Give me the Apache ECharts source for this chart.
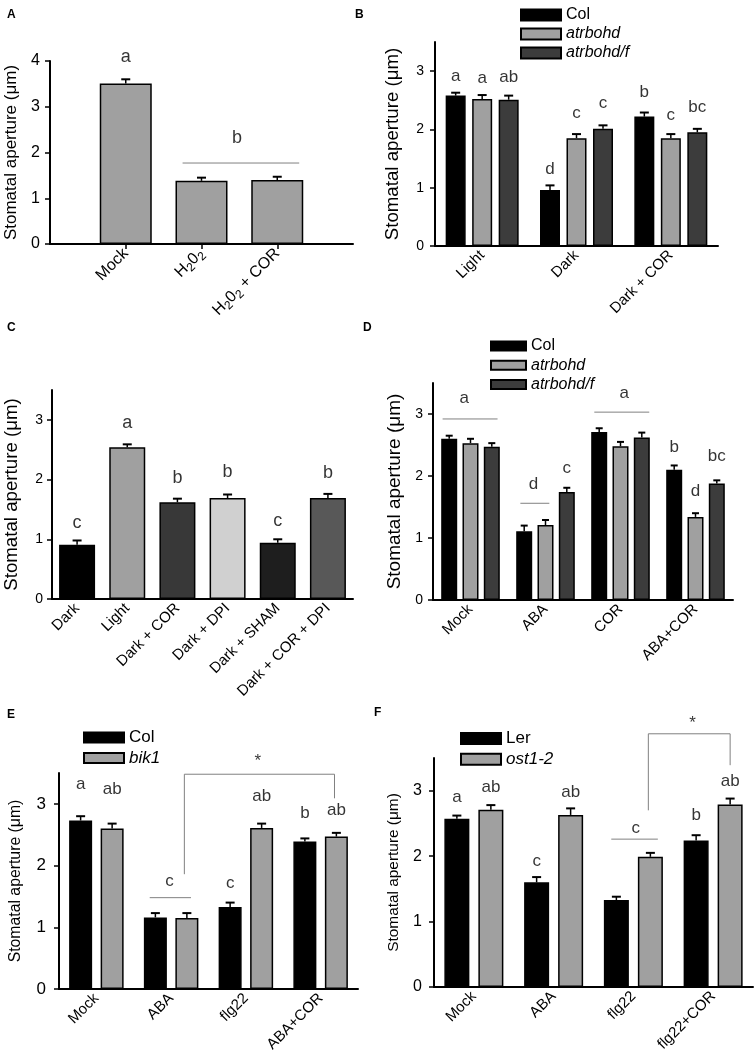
<!DOCTYPE html>
<html>
<head>
<meta charset="utf-8">
<title>Stomatal aperture</title>
<script src="https://cdn.jsdelivr.net/npm/echarts@6/dist/echarts.min.js"></script>
<style>
  html, body { margin: 0; padding: 0; background: #fff; }
  #chart { width: 756px; height: 1060px; }
</style>
</head>
<body>
<div id="chart"></div>
<script>
// ---------- data ----------
var yTicks = [0, 1, 2, 3];
var yTicksA = [0, 1, 2, 3, 4];
var yName = 'Stomatal aperture (μm)';

// A
var catsA = ['Mock', 'H₂0₂', 'H₂0₂ + COR'];
var valsA = [3.51, 1.38, 1.40];
var errA = [0.09, 0.07, 0.07];
// letters: [group, bar, y, text]; lines: list of [group, bar, y] points
var lettersA = [[0, 0, 4.08, 'a'], [1.47, 0, 2.31, 'b']];
var linesA = [[[0.75, 0, 1.77], [2.29, 0, 1.77]]];

// B
var catsB = ['Light', 'Dark', 'Dark + COR'];
var namesB = ['Col', 'atrbohd', 'atrbohd/f'];
var colB = [2.58, 0.96, 2.22];
var rbohdB = [2.52, 1.85, 1.85];
var rbohdfB = [2.51, 2.01, 1.95];
var errColB = [0.05, 0.08, 0.07];
var errRbohdB = [0.07, 0.07, 0.07];
var errRbohdfB = [0.07, 0.06, 0.06];
var lettersB = [[0, 0, 2.91, 'a'], [0, 1, 2.88, 'a'], [0, 2, 2.90, 'ab'],
                [1, 0, 1.32, 'd'], [1, 1, 2.27, 'c'], [1, 2, 2.44, 'c'],
                [2, 0, 2.63, 'b'], [2, 1, 2.25, 'c'], [2, 2, 2.38, 'bc']];

// C
var catsC = ['Dark', 'Light', 'Dark + COR', 'Dark + DPI', 'Dark + SHAM', 'Dark + COR + DPI'];
var valsC = [0.91, 2.54, 1.62, 1.69, 0.94, 1.69];
var errC = [0.07, 0.05, 0.06, 0.06, 0.06, 0.07];
var lettersC = [[0, 0, 1.28, 'c'], [1, 0, 2.95, 'a'], [2, 0, 2.03, 'b'],
                [3, 0, 2.12, 'b'], [4, 0, 1.30, 'c'], [5, 0, 2.11, 'b']];

// D
var catsD = ['Mock', 'ABA', 'COR', 'ABA+COR'];
var colD = [2.60, 1.11, 2.71, 2.10];
var rbohdD = [2.53, 1.21, 2.48, 1.34];
var rbohdfD = [2.47, 1.74, 2.62, 1.88];
var errColD = [0.05, 0.09, 0.06, 0.07];
var errRbohdD = [0.07, 0.08, 0.07, 0.06];
var errRbohdfD = [0.06, 0.07, 0.08, 0.05];
var lettersD = [[0, 0.71, 3.26, 'a'], [1, 0.44, 1.87, 'd'], [1, 2, 2.13, 'c'],
                [2, 1.18, 3.34, 'a'], [3, 0, 2.47, 'b'], [3, 1, 1.75, 'd'], [3, 2, 2.32, 'bc']];
var linesD = [[[0, -0.31, 2.92], [0, 2.27, 2.92]],
              [[1, -0.18, 1.56], [1, 1.18, 1.56]],
              [[2, -0.23, 3.03], [2, 2.35, 3.03]]];

// E
var catsE = ['Mock', 'ABA', 'flg22', 'ABA+COR'];
var namesE = ['Col', 'bik1'];
var colE = [2.73, 1.16, 1.33, 2.39];
var bik1E = [2.60, 1.15, 2.61, 2.47];
var errColE = [0.07, 0.07, 0.07, 0.05];
var errBik1E = [0.08, 0.08, 0.07, 0.06];
var lettersE = [[0, 0, 3.32, 'a'], [0, 1, 3.23, 'ab'], [1, 0.45, 1.74, 'c'],
                [2, 0, 1.72, 'c'], [2, 1, 3.13, 'ab'], [3, 0, 2.85, 'b'], [3, 1, 2.89, 'ab'],
                [2, 0.88, 3.69, '*']];
var linesE = [[[1, -0.18, 1.48], [1, 1.13, 1.48]],
              [[1, 0.92, 1.86], [1, 0.92, 3.48], [3, 0.94, 3.48], [3, 0.94, 3.09]]];

// F
var catsF = ['Mock', 'ABA', 'flg22', 'flg22+COR'];
var namesF = ['Ler', 'ost1-2'];
var lerF = [2.57, 1.60, 1.33, 2.24];
var ostF = [2.71, 2.63, 1.99, 2.79];
var errLerF = [0.05, 0.08, 0.05, 0.08];
var errOstF = [0.07, 0.10, 0.06, 0.09];
var lettersF = [[0, 0, 2.90, 'a'], [0, 1, 3.05, 'ab'], [1, 0, 1.92, 'c'], [1, 1, 2.97, 'ab'],
                [2, 0.57, 2.43, 'c'], [3, 0, 2.62, 'b'], [3, 1, 3.14, 'ab'],
                [2, 2.24, 4.03, '*']];
var linesF = [[[2, -0.15, 2.26], [2, 1.22, 2.26]],
              [[2, 0.94, 2.70], [2, 0.94, 3.87], [3, 1, 3.87], [3, 1, 3.39]]];

// ---------- styles ----------
var FONT = '"Liberation Sans", Arial, Helvetica, sans-serif';
var BLACK = '#000000', GREY = '#a0a0a0', DARK = '#3c3c3c';
var colorsC = ['#000000', '#a0a0a0', '#383838', '#d0d0d0', '#1e1e1e', '#585858'];

var option = {
    animation: false,
    textStyle: { fontFamily: FONT },
    title: [],
    legend: [],
    grid: [],
    xAxis: [],
    yAxis: [],
    series: []
};

function panelLetter(t, x, y) {
    option.title.push({
        text: t, left: x, top: y, padding: 0,
        textStyle: { fontSize: 12, fontWeight: 'bold', color: '#000', fontFamily: FONT }
    });
}

// subscript digits drawn as smaller, lowered rich-text tokens
function subLabel(v) {
    return String(v).replace(/₂/g, '{s|2}');
}

// build one bar panel (grid + axes + bars + error bars + letters + lines)
function addPanel(p) {
    var gi = option.grid.length;
    var n = p.cats.length;
    var m = p.series.length;
    option.grid.push({ left: p.left, top: p.top, width: p.width, height: p.height });

    var axisCats = p.padEnds ? [' '].concat(p.cats).concat(['  ']) : p.cats;
    var catIdx = option.xAxis.length;
    var xLabel = { interval: 0, rotate: 45, fontSize: p.xFont, color: '#000', margin: 7, fontFamily: FONT };
    if (p.subscript) {
        xLabel.formatter = subLabel;
        xLabel.rich = { s: { fontSize: p.xFont - 4, padding: [9, 0, 0, 0], color: '#000', fontFamily: FONT } };
    }
    option.xAxis.push({
        type: 'category', gridIndex: gi, data: axisCats,
        boundaryGap: !p.padEnds,
        axisLine: { onZero: false, lineStyle: { color: '#000', width: 2 } },
        axisTick: {
            alignWithLabel: true, length: 5,
            interval: p.padEnds ? function (i) { return i > 0 && i < axisCats.length - 1; } : 0,
            lineStyle: { color: '#000', width: 1.5 }
        },
        axisLabel: xLabel,
        splitLine: { show: false }
    });
    var valIdx = option.xAxis.length;
    option.xAxis.push({
        type: 'value', gridIndex: gi, show: false,
        min: p.padEnds ? -1 : -0.5, max: p.padEnds ? n : n - 0.5
    });
    var yi = option.yAxis.length;
    option.yAxis.push({
        type: 'value', gridIndex: gi, min: 0, max: p.yMax, interval: 1,
        name: yName, nameLocation: 'middle', nameGap: p.nameGap,
        nameTextStyle: { fontSize: p.nameFont, color: '#000', fontFamily: FONT },
        axisLine: { show: true, onZero: false, lineStyle: { color: '#000', width: 2 } },
        axisTick: { show: true, length: 5, customValues: p.ticks, lineStyle: { color: '#000', width: 1.5 } },
        axisLabel: { customValues: p.ticks, fontSize: p.yFont, color: '#000', margin: p.yMargin, fontFamily: FONT },
        splitLine: { show: false }
    });

    var catW = p.width / (p.padEnds ? n + 1 : n);
    var step = (p.barWidth + (p.gap || 0)) / catW;
    function xOf(g, k) { return g + (k - (m - 1) / 2) * step; }

    var errData = [];
    p.series.forEach(function (s, k) {
        option.series.push({
            type: 'bar', name: s.name, xAxisIndex: catIdx, yAxisIndex: yi,
            barWidth: p.barWidth, barGap: ((p.gap || 0) / p.barWidth * 100) + '%',
            itemStyle: { color: s.color, borderColor: '#000', borderWidth: 1.5 },
            silent: true,
            data: p.cats.map(function (c, i) {
                var d = { value: [c, s.values[i]] };
                if (s.colors) d.itemStyle = { color: s.colors[i] };
                return d;
            })
        });
        s.values.forEach(function (v, g) { errData.push([xOf(g, k), v, s.err[g]]); });
    });

    var capHalf = p.cap || 4.5;
    option.series.push({
        type: 'custom', xAxisIndex: valIdx, yAxisIndex: yi, silent: true, z: 5,
        data: errData,
        renderItem: function (params, api) {
            var x = api.value(0), v = api.value(1), e = api.value(2);
            var a = api.coord([x, v]);
            var b = api.coord([x, v + e]);
            return {
                type: 'group',
                children: [
                    { type: 'line', shape: { x1: a[0], y1: a[1], x2: b[0], y2: b[1] }, style: { stroke: '#000', lineWidth: 1.5 } },
                    { type: 'line', shape: { x1: b[0] - capHalf, y1: b[1], x2: b[0] + capHalf, y2: b[1] }, style: { stroke: '#000', lineWidth: 2 } }
                ]
            };
        }
    });

    option.series.push({
        type: 'scatter', xAxisIndex: valIdx, yAxisIndex: yi, silent: true, clip: false, z: 6,
        symbolSize: 1, itemStyle: { color: 'rgba(0,0,0,0)' },
        label: {
            show: true, position: 'inside', formatter: '{b}',
            fontSize: p.letterFont, color: '#000', fontFamily: FONT
        },
        data: p.letters.map(function (l) { return { name: l[3], value: [xOf(l[0], l[1]), l[2]] }; })
    });

    (p.lines || []).forEach(function (ln) {
        option.series.push({
            type: 'line', xAxisIndex: valIdx, yAxisIndex: yi, silent: true, clip: false, z: 6,
            symbol: 'none', lineStyle: { color: '#808080', width: 1 },
            data: ln.map(function (pt) { return [xOf(pt[0], pt[1]), pt[2]]; })
        });
    });

    if (p.legend) {
        option.legend.push({
            left: p.legend.left, top: p.legend.top, orient: 'vertical', padding: 0,
            icon: 'rect', itemWidth: p.legend.w, itemHeight: p.legend.h, itemGap: p.legend.gap,
            selectedMode: false,
            textStyle: { fontSize: p.legend.font, color: '#000', fontFamily: FONT },
            data: p.series.map(function (s) {
                return { name: s.name, textStyle: { fontStyle: s.italic ? 'italic' : 'normal' } };
            })
        });
    }
}

addPanel({
    cats: catsA, padEnds: true, subscript: true, left: 50, top: 61, width: 303, height: 183, yMax: 4, ticks: yTicksA,
    nameGap: 30, nameFont: 17, yFont: 16, yMargin: 10, xFont: 16, letterFont: 18, barWidth: 52,
    series: [{ name: 'A', values: valsA, err: errA, color: GREY }],
    letters: lettersA, lines: linesA
});
addPanel({
    cats: catsB, left: 435, top: 42, width: 283, height: 204, yMax: 3.5, ticks: yTicks,
    nameGap: 33, nameFont: 18.7, yFont: 14, yMargin: 11, xFont: 15, letterFont: 17, barWidth: 20, gap: 6.5,
    series: [
        { name: namesB[0], values: colB, err: errColB, color: BLACK },
        { name: namesB[1], values: rbohdB, err: errRbohdB, color: GREY, italic: true },
        { name: namesB[2], values: rbohdfB, err: errRbohdfB, color: DARK, italic: true }
    ],
    letters: lettersB,
    legend: { left: 520, top: 7, w: 40, h: 11, gap: 3, font: 16 }
});
addPanel({
    cats: catsC, left: 52, top: 390, width: 301, height: 209, yMax: 3.5, ticks: yTicks,
    nameGap: 31, nameFont: 18.7, yFont: 14, yMargin: 9, xFont: 15, letterFont: 18, barWidth: 36,
    series: [{ name: 'C', values: valsC, err: errC, color: BLACK, colors: colorsC }],
    letters: lettersC
});
addPanel({
    cats: catsD, left: 433, top: 383, width: 300, height: 217, yMax: 3.5, ticks: yTicks,
    nameGap: 29, nameFont: 19, yFont: 14, yMargin: 10, xFont: 15, letterFont: 17, barWidth: 16, gap: 5.3, cap: 3.5,
    series: [
        { name: namesB[0], values: colD, err: errColD, color: BLACK },
        { name: namesB[1], values: rbohdD, err: errRbohdD, color: GREY, italic: true },
        { name: namesB[2], values: rbohdfD, err: errRbohdfD, color: DARK, italic: true }
    ],
    letters: lettersD, lines: linesD,
    legend: { left: 490, top: 338, w: 35, h: 9, gap: 3.2, font: 16 }
});
addPanel({
    cats: catsE, left: 59, top: 773, width: 299, height: 216, yMax: 3.5, ticks: yTicks,
    nameGap: 35, nameFont: 15.8, yFont: 17, yMargin: 13, xFont: 15, letterFont: 17, barWidth: 23, gap: 8.5,
    series: [
        { name: namesE[0], values: colE, err: errColE, color: BLACK },
        { name: namesE[1], values: bik1E, err: errBik1E, color: GREY, italic: true }
    ],
    letters: lettersE, lines: linesE,
    legend: { left: 83, top: 729, w: 40, h: 10, gap: 3.4, font: 17 }
});
addPanel({
    cats: catsF, left: 434, top: 758, width: 319, height: 229, yMax: 3.5, ticks: yTicks,
    nameGap: 33, nameFont: 15.4, yFont: 16, yMargin: 12, xFont: 15, letterFont: 17, barWidth: 25, gap: 9,
    series: [
        { name: namesF[0], values: lerF, err: errLerF, color: BLACK },
        { name: namesF[1], values: ostF, err: errOstF, color: GREY, italic: true }
    ],
    letters: lettersF, lines: linesF,
    legend: { left: 460, top: 730, w: 40, h: 11, gap: 3.7, font: 17 }
});

panelLetter('A', 7, 9);
panelLetter('B', 355, 9);
panelLetter('C', 7, 322);
panelLetter('D', 363, 322);
panelLetter('E', 7, 709);
panelLetter('F', 374, 707);

var myChart = echarts.init(document.getElementById('chart'));
myChart.setOption(option);
window.addEventListener('resize', function () {
    myChart.resize();
});
</script>
</body>
</html>
